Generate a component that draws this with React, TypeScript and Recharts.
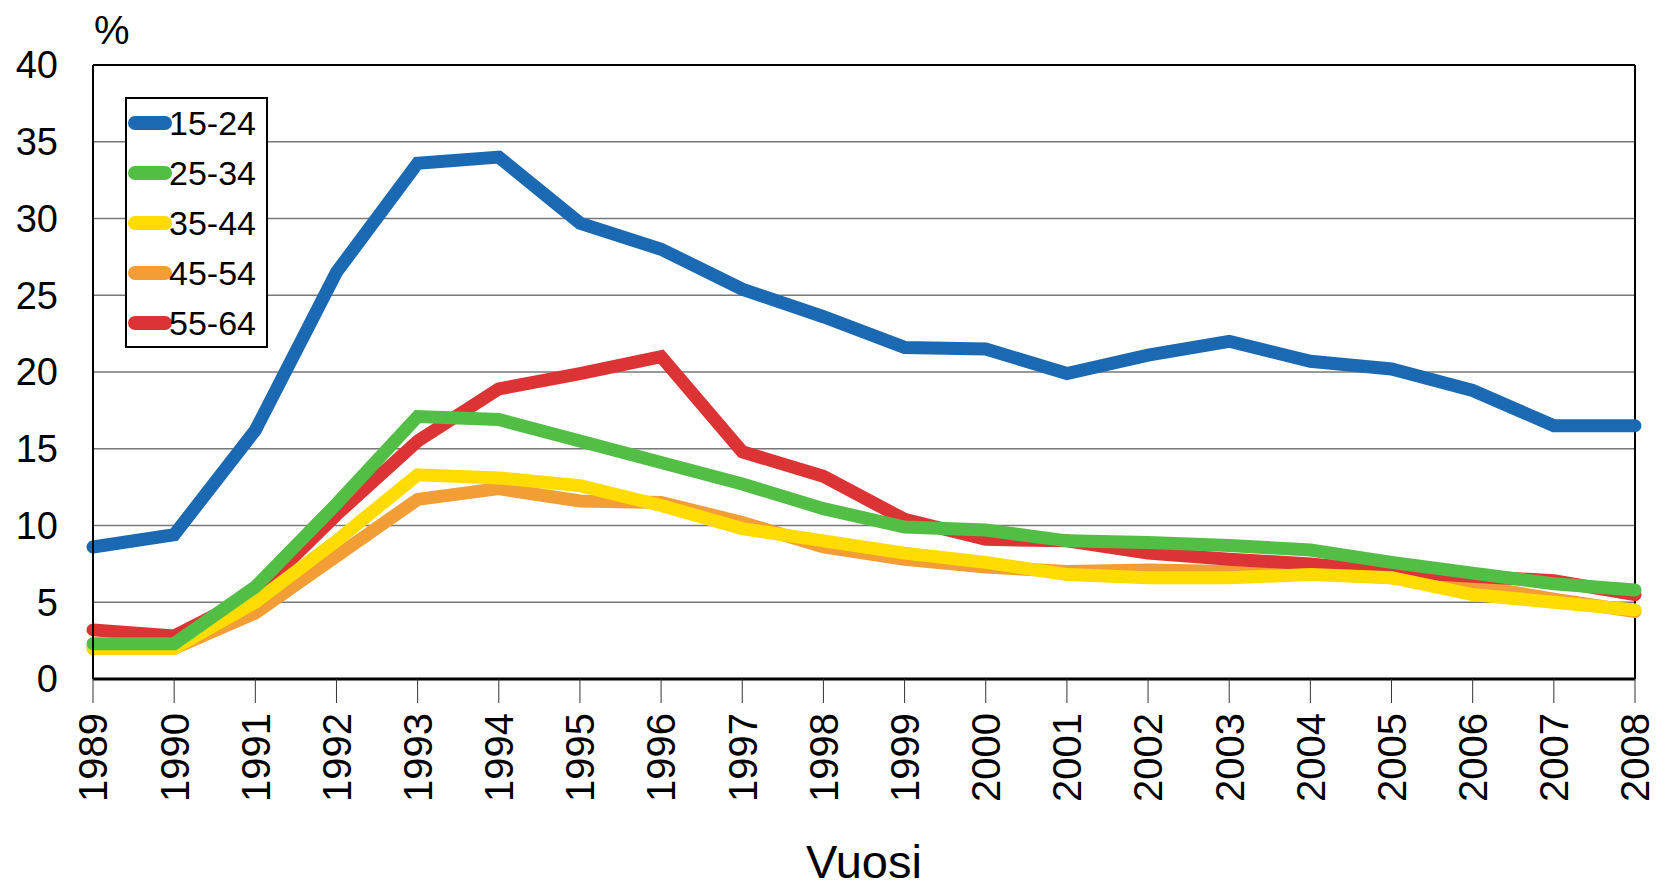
import { LineChart, Line, XAxis, YAxis, CartesianGrid, ReferenceLine } from "recharts";

const FONT = "'Liberation Sans', Arial, sans-serif";

const YEARS = [
    1989, 1990, 1991, 1992, 1993, 1994, 1995, 1996, 1997, 1998,
    1999, 2000, 2001, 2002, 2003, 2004, 2005, 2006, 2007, 2008
];

const AGE_15_24 = [8.6, 9.4, 16.2, 26.5, 33.6, 34.0, 29.7, 28.0, 25.4, 23.6, 21.6, 21.5, 19.9, 21.1, 22.0, 20.7, 20.2, 18.8, 16.5, 16.5];
const AGE_25_34 = [2.3, 2.3, 6.0, 11.4, 17.1, 16.9, 15.5, 14.1, 12.7, 11.1, 9.9, 9.7, 9.0, 8.9, 8.7, 8.4, 7.6, 6.9, 6.2, 5.8];
const AGE_35_44 = [2.0, 2.0, 5.0, 9.0, 13.3, 13.1, 12.6, 11.3, 9.8, 9.0, 8.2, 7.6, 6.8, 6.6, 6.6, 6.8, 6.6, 5.5, 5.0, 4.5];
const AGE_45_54 = [2.0, 2.0, 4.3, 8.0, 11.7, 12.4, 11.6, 11.5, 10.2, 8.6, 7.8, 7.3, 7.0, 7.1, 7.0, 6.9, 6.6, 6.1, 5.2, 4.4];
const AGE_55_64 = [3.2, 2.8, 5.5, 10.7, 15.5, 18.9, 19.9, 21.0, 14.8, 13.2, 10.4, 9.1, 9.0, 8.2, 7.8, 7.5, 7.0, 6.7, 6.4, 5.5];

const Y_TICKS = [0, 5, 10, 15, 20, 25, 30, 35, 40];

// legend order
const SERIES = [
    { key: "a1524", name: "15-24", color: "#1a69b2", values: AGE_15_24 },
    { key: "a2534", name: "25-34", color: "#52be45", values: AGE_25_34 },
    { key: "a3544", name: "35-44", color: "#ffdb00", values: AGE_35_44 },
    { key: "a4554", name: "45-54", color: "#f29d35", values: AGE_45_54 },
    { key: "a5564", name: "55-64", color: "#dc3434", values: AGE_55_64 }
];

// painting order (last one on top)
const DRAW_ORDER = ["a4554", "a5564", "a3544", "a2534", "a1524"];

const data = YEARS.map((year, i) => {
    const row: Record<string, string | number> = { year: String(year) };
    SERIES.forEach(s => {
        row[s.key] = s.values[i];
    });
    return row;
});

function YearTick({ x, y, payload }: any) {
    return (
        <text
            x={x}
            y={y}
            transform={`rotate(-90 ${x} ${y})`}
            textAnchor="end"
            dy="0.36em"
            fontSize={40}
            fontFamily={FONT}
            fill="#000"
        >
            {payload.value}
        </text>
    );
}

export default function App() {
    return (
        <div style={{ position: "absolute", left: 0, top: 0, width: 1664, height: 885, background: "#fff", fontFamily: FONT }}>
            <LineChart width={1664} height={885} data={data} margin={{ top: 65, right: 29, bottom: 56, left: 0 }}>
                <CartesianGrid vertical={false} stroke="#777" strokeWidth={1.5} />
                <XAxis
                    dataKey="year"
                    type="category"
                    interval={0}
                    height={150}
                    tickSize={24}
                    tickMargin={10}
                    tick={<YearTick />}
                    axisLine={{ stroke: "#000", strokeWidth: 3 }}
                    tickLine={{ stroke: "#333", strokeWidth: 1 }}
                />
                <YAxis
                    domain={[0, 40]}
                    ticks={Y_TICKS}
                    width={93}
                    tickLine={false}
                    tickSize={0}
                    tickMargin={35}
                    tick={{ fontSize: 38, fill: "#000", fontFamily: FONT }}
                    axisLine={{ stroke: "#000", strokeWidth: 2 }}
                />
                <ReferenceLine y={40} stroke="#000" strokeWidth={2} />
                <ReferenceLine x="2008" stroke="#000" strokeWidth={2} />
                {DRAW_ORDER.map(k => {
                    const s = SERIES.find(ser => ser.key === k)!;
                    return (
                        <Line
                            key={s.key}
                            type="linear"
                            dataKey={s.key}
                            name={s.name}
                            stroke={s.color}
                            strokeWidth={13}
                            strokeLinecap="round"
                            strokeLinejoin="miter"
                            dot={false}
                            activeDot={false}
                            isAnimationActive={false}
                        />
                    );
                })}
            </LineChart>

            {/* unit label */}
            <div style={{ position: "absolute", left: 94, top: 10, fontSize: 40, lineHeight: "40px", color: "#000" }}>%</div>

            {/* axis title */}
            <div style={{ position: "absolute", left: 664, width: 400, top: 842, fontSize: 47, lineHeight: "40px", textAlign: "center", color: "#000" }}>
                Vuosi
            </div>

            {/* legend */}
            <div
                style={{
                    position: "absolute",
                    left: 125,
                    top: 97,
                    width: 143,
                    height: 251,
                    boxSizing: "border-box",
                    border: "2px solid #000",
                    background: "#fff"
                }}
            >
                {SERIES.map((s, i) => {
                    const cy = 24 + i * 50;
                    return (
                        <div key={s.key}>
                            <div
                                style={{
                                    position: "absolute",
                                    left: 1,
                                    top: cy - 7,
                                    width: 44,
                                    height: 14,
                                    borderRadius: 7,
                                    background: s.color
                                }}
                            />
                            <div
                                style={{
                                    position: "absolute",
                                    left: 42,
                                    top: cy - 17,
                                    fontSize: 34,
                                    lineHeight: "34px",
                                    color: "#000",
                                    whiteSpace: "nowrap"
                                }}
                            >
                                {s.name}
                            </div>
                        </div>
                    );
                })}
            </div>
        </div>
    );
}
